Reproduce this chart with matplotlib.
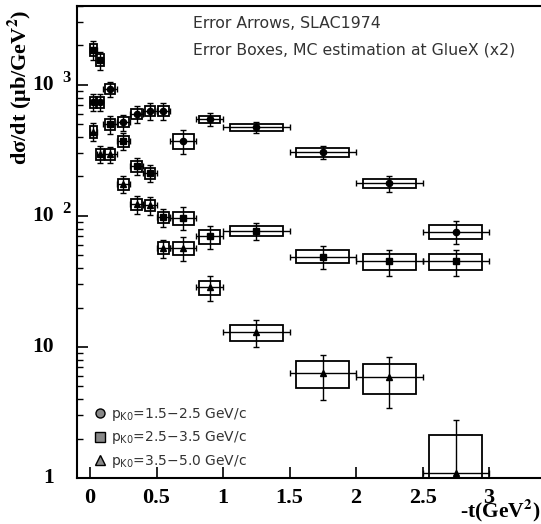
import matplotlib
matplotlib.use("Agg")
import matplotlib.pyplot as plt
import matplotlib.transforms as mtransforms
from matplotlib.lines import Line2D
from matplotlib.ticker import LogLocator, NullFormatter
import numpy as np

# -t bin centres and half widths (GeV^2)
t_centre = np.array([0.025, 0.075, 0.15, 0.25, 0.35, 0.45, 0.55, 0.7, 0.9, 1.25, 1.75, 2.25, 2.75])
t_half = np.array([0.025, 0.025, 0.05, 0.05, 0.05, 0.05, 0.05, 0.1, 0.1, 0.25, 0.25, 0.25, 0.25])

# p_K0 = 1.5-2.5 GeV/c
xs_low = np.array([740, 740, 930, 519, 600, 637, 637, 374, 547, 476, 308, 178, 76])
err_low = np.array([110, 110, 120, 75, 90, 95, 95, 76, 60, 45, 35, 25, 15])
box_low = np.array([70, 70, 80, 45, 55, 58, 58, 50, 35, 30, 24, 14, 9])

# p_K0 = 2.5-3.5 GeV/c
xs_mid = np.array([1850, 1550, 500, 373, 240, 212, 98, 97, 70, 77, 49, 45, 45])
err_mid = np.array([300, 240, 75, 55, 36, 32, 15, 19, 14, 12, 9.5, 10, 10])
box_mid = np.array([200, 160, 50, 35, 22, 20, 10, 11, 8.5, 7, 5.5, 6.5, 6.5])

# p_K0 = 3.5-5.0 GeV/c
xs_high = np.array([440, 297, 295, 175, 123, 121, 57, 57, 28.6, 13, 6.3, 5.9, 1.09])
err_high = np.array([70, 45, 40, 26, 19, 19, 9, 11.5, 6, 3, 2.35, 2.45, 1.7])
box_high = np.array([45, 28, 27, 17, 12, 12, 6, 6.5, 3.5, 1.8, 1.45, 1.55, 1.05])

series = [
    (xs_low, err_low, box_low, 'o', 4.5, r'p$_{\mathrm{K0}}$=1.5$-$2.5 GeV/c'),
    (xs_mid, err_mid, box_mid, 's', 4.0, r'p$_{\mathrm{K0}}$=2.5$-$3.5 GeV/c'),
    (xs_high, err_high, box_high, '^', 4.0, r'p$_{\mathrm{K0}}$=3.5$-$5.0 GeV/c'),
]

x_ticks = [0, 0.5, 1, 1.5, 2, 2.5, 3]
x_ticklabels = ['0', '0.5', '1', '1.5', '2', '2.5', '3']
y_ticks = [1, 10, 100, 1000]
y_tick_base = ['1', '10', '10', '10']
y_tick_exp = ['', '', '2', '3']

plt.rcParams['mathtext.fontset'] = 'stix'

fig = plt.figure(figsize=(5.41, 5.24), dpi=100)
ax = fig.add_axes([77 / 541, 1 - 478 / 524, 1 - 77 / 541, 472 / 524])

box_width = np.maximum(0.8 * t_half, 0.028)
handles = []
for xs, err, box, mk, ms, lab in series:
    # MC error boxes
    ax.bar(t_centre, 2 * box, bottom=xs - box, width=2 * box_width,
           fill=False, edgecolor='k', linewidth=1.3, zorder=2)
    # measured points with error bars
    ax.errorbar(t_centre, xs, yerr=err, xerr=t_half, fmt=mk, ms=ms,
                color='k', ecolor='k', elinewidth=1.0, capsize=2.5,
                capthick=1.0, zorder=3)
    handles.append(Line2D([], [], marker=mk, ls='none', ms=6.5,
                          mfc='#888888', mec='k', mew=1.0, label=lab))

ax.set_yscale('log')
ax.set_xlim(-0.098, 3.39)
ax.set_ylim(1, 4000)

ax.set_xticks(x_ticks)
ax.set_xticklabels(x_ticklabels, fontfamily='Liberation Serif',
                   fontweight='bold', fontsize=16)
ax.set_yticks(y_ticks)
ax.yaxis.set_major_formatter(NullFormatter())
ax.yaxis.set_minor_locator(LogLocator(base=10, subs=np.arange(2, 10)))
ax.yaxis.set_minor_formatter(NullFormatter())
ax.tick_params(axis='both', which='major', direction='in', length=8, width=1.2)
ax.tick_params(axis='y', which='minor', direction='in', length=4.5, width=1.0)
ax.tick_params(axis='x', which='major', pad=7)

# y tick labels written as base + raised exponent
ytrans = ax.get_yaxis_transform()
exp_trans = mtransforms.offset_copy(ytrans, fig=fig, y=7, units='dots')
for val, base, ex in zip(y_ticks, y_tick_base, y_tick_exp):
    ax.text(-0.049, val, base, transform=ytrans, ha='right', va='center',
            fontsize=15.5, fontweight='bold', fontfamily='Liberation Serif',
            clip_on=False)
    if ex:
        ax.text(-0.031, val, ex, transform=exp_trans, ha='left', va='center',
                fontsize=12, fontweight='bold', fontfamily='Liberation Serif',
                clip_on=False)

for side in ['left', 'bottom', 'top']:
    ax.spines[side].set_linewidth(1.5)
ax.spines['right'].set_visible(False)

ax.text(0.25, 0.962, 'Error Arrows, SLAC1974', transform=ax.transAxes,
        va='center', ha='left', fontsize=11.3, color='#333333')
ax.text(0.25, 0.907, 'Error Boxes, MC estimation at GlueX (x2)',
        transform=ax.transAxes, va='center', ha='left', fontsize=11.3,
        color='#333333')

leg = ax.legend(handles=handles, loc='lower left', bbox_to_anchor=(0.02, 0.0),
                frameon=False, fontsize=10, handlelength=0.8,
                handletextpad=0.4, labelspacing=0.45, borderpad=0.1)
for txt in leg.get_texts():
    txt.set_math_fontfamily('dejavusans')
    txt.set_color('#333333')

fig.text(0.036, 1 - 10 / 524, 'dσ/dt (μb/GeV$^{\\mathbf{2}}$)',
         rotation=90, va='top', ha='center', fontsize=16, fontweight='bold',
         fontfamily='Liberation Serif')
fig.text(0.998, 0.0, r'-t(GeV$^{\mathbf{2}}$)', ha='right', va='bottom',
         fontsize=15.5, fontweight='bold', fontfamily='Liberation Serif')

fig.savefig('out.png', dpi=100)
